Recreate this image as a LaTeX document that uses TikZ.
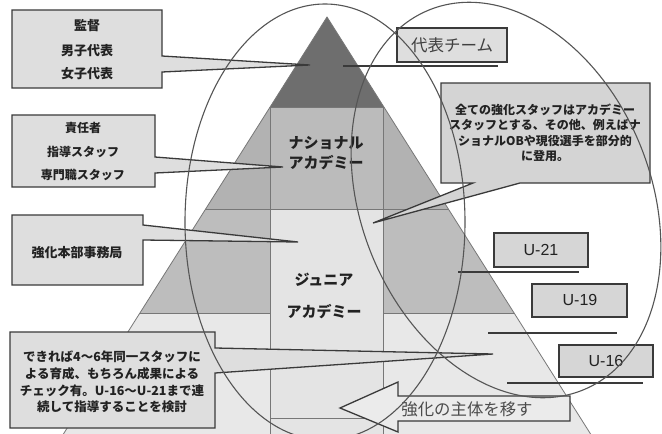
\documentclass[tikz,border=0pt]{standalone}
\usepackage{fontspec}
\setmainfont{Liberation Sans}
\newfontfamily\jp{Noto Sans CJK JP}
\definecolor{bandA}{HTML}{6E6E6E}
\definecolor{bandB}{HTML}{B2B2B2}
\definecolor{stripB}{HTML}{BBBBBB}
\definecolor{bandC}{HTML}{BDBDBD}
\definecolor{stripC}{HTML}{E4E4E4}
\definecolor{bandD}{HTML}{E8E8E8}
\definecolor{boxfill}{HTML}{DEDEDE}
\definecolor{edge}{HTML}{3A3A3A}
\definecolor{txt}{HTML}{222222}
\definecolor{pline}{HTML}{777777}
\definecolor{ell}{HTML}{555555}
\begin{document}
\begin{tikzpicture}[x=1pt,y=-1pt,
  box/.style={fill=boxfill,draw=edge,line width=1.3pt,line join=miter},
  bar/.style={draw=edge,line width=1.5pt},
  pl/.style={draw=pline,line width=0.8pt},
  ellipseline/.style={draw=ell,line width=1.1pt},
  jt/.style={font=\jp\bfseries\fontsize{13}{16}\selectfont,text=txt,align=center,inner sep=0pt},
  ul/.style={font=\fontsize{16}{18}\selectfont,text=txt,inner sep=0pt}]
\useasboundingbox (0,0) rectangle (662,434);
\fill[white] (0,0) rectangle (662,434);
% pyramid
\begin{scope}
\clip (327,17) -- (595,441) -- (59,441) -- cycle;
\fill[bandA] (0,0) rectangle (662,107);
\fill[bandB] (0,107) rectangle (662,209);
\fill[bandC] (0,209) rectangle (662,313);
\fill[bandD] (0,313) rectangle (662,441);
\fill[stripB] (270,107) rectangle (383,209);
\fill[stripC] (270,209) rectangle (383,441);
\draw[pl] (0,107) -- (662,107);
\draw[pl] (0,209) -- (662,209);
\draw[pl] (0,313) -- (270,313) (383,313) -- (662,313);
\draw[pl] (270,107) -- (270,441) (383,107) -- (383,441);
\draw[pl] (270,418) -- (383,418);
\end{scope}
\draw[pl] (59,441) -- (327,17) -- (595,441);
\node[jt,font=\jp\bfseries\fontsize{15}{20}\selectfont] (national) at (326,153) {ナショナル\\アカデミー};
\node[jt,font=\jp\bfseries\fontsize{15}{32}\selectfont] (junior) at (324,296) {ジュニア\\アカデミー};
% left callouts
\draw[box] (12,10) -- (162,10) -- (162,56) -- (310,65) -- (162,72) -- (162,88) -- (12,88) -- cycle;
\node[jt] (kantoku) at (87,26) {監督};
\node[jt] (danshi) at (87,51) {男子代表};
\node[jt] (joshi) at (87,74) {女子代表};
\draw[box] (12,115) -- (155,115) -- (155,157) -- (283,167) -- (155,173) -- (155,187) -- (12,187) -- cycle;
\node[jt,font=\jp\bfseries\fontsize{12}{14}\selectfont] (sekinin) at (83,128) {責任者};
\node[jt,font=\jp\bfseries\fontsize{12}{14}\selectfont] (shido) at (83,152) {指導スタッフ};
\node[jt,font=\jp\bfseries\fontsize{12}{14}\selectfont] (senmon) at (83,175) {専門職スタッフ};
\draw[box] (12,215) -- (143,215) -- (143,225) -- (298,242) -- (143,240) -- (143,285) -- (12,285) -- cycle;
\node[jt] (jimukyoku) at (77,253) {強化本部事務局};
\draw[box] (10,332) -- (215,332) -- (215,348) -- (493,354) -- (215,373) -- (215,428) -- (10,428) -- cycle;
\node[jt,font=\jp\bfseries\fontsize{12.5}{16.7}\selectfont] (note) at (112,382) {できれば4〜6年同一スタッフに\\よる育成、もちろん成果による\\チェック有。U-16〜U-21まで連\\続して指導することを検討};
% right callouts
\draw[box] (397,28) rectangle (507,62);
\node[jt,font=\jp\fontsize{16.5}{18}\selectfont,text=black!75] (daihyo) at (452,45) {代表チーム};
\coordinate (daihyoA) at (343,66);
\coordinate (daihyoB) at (498,66);
\draw[bar] (daihyoA) -- (daihyoB);
\draw[box,fill=black!17] (441,83) -- (650,83) -- (650,183) -- (520,183) -- (373,223) -- (473,183) -- (441,183) -- cycle;
\node[jt,font=\jp\bfseries\fontsize{12}{15.5}\selectfont] (staff) at (545,133) {全ての強化スタッフはアカデミー\\スタッフとする、その他、例えばナ\\ショナルOBや現役選手を部分的\\に登用。};
\draw[box,fill=black!16] (494,233) rectangle (588,267);
\node[ul] (u21) at (541,250) {U-21};
\draw[bar] (458,272) -- (579,272);
\draw[box,fill=black!16] (532,284) rectangle (627,317);
\node[ul] (u19) at (580,300) {U-19};
\draw[bar] (488,333) -- (617,333);
\draw[box,fill=black!16] (559,345) rectangle (653,377);
\node[ul] (u16) at (606,361) {U-16};
\draw[bar] (507,383) -- (643,383);
% arrow
\draw[box,fill=black!8] (340,408) -- (398,382) -- (398,396) -- (570,396) -- (570,421) -- (398,421) -- (398,432) -- cycle;
\node[jt,font=\jp\fontsize{16.4}{18}\selectfont,text=black!70] (shutai) at (467,409) {強化の主体を移す};
% ellipses
\draw[ellipseline] (325,222) ellipse [x radius=140, y radius=218];
\draw[ellipseline,rotate around={22:(506,200)}] (506,200) ellipse [x radius=145, y radius=205];
\end{tikzpicture}
\end{document}
